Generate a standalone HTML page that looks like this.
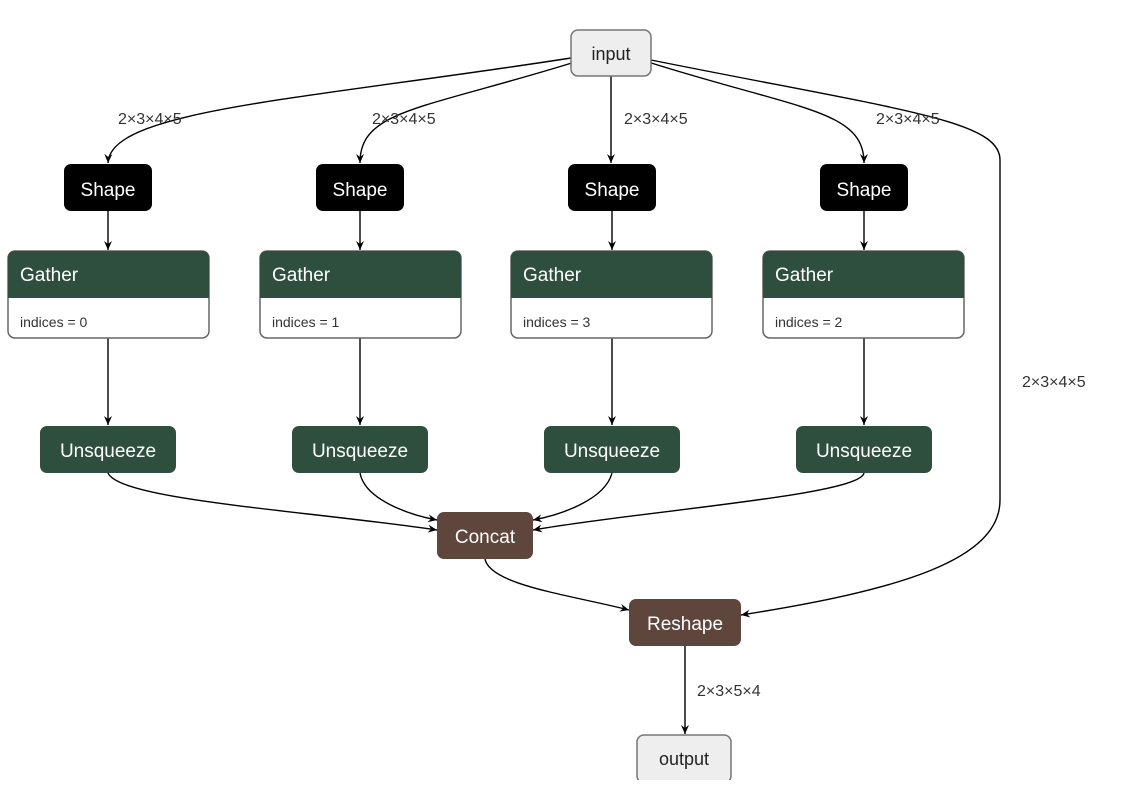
<!DOCTYPE html>
<html><head><style>
body{margin:0;width:1135px;height:780px;background:#fff;overflow:hidden;font-family:"Liberation Sans",sans-serif}
</style></head><body>
<svg width="1135" height="780" xmlns="http://www.w3.org/2000/svg" font-family="Liberation Sans, sans-serif">
<defs><marker id="a" markerWidth="10" markerHeight="10" refX="9" refY="5" orient="auto" markerUnits="userSpaceOnUse"><path d="M0,1 L9,5 L0,9 L3,5 Z" fill="#000"/></marker></defs>
<g fill="none" stroke="#000" stroke-width="1.4" marker-end="url(#a)">
<path d="M571,58 C300,100 110,110 108,163"/>
<path d="M575,62 C420,110 360,110 360,163"/>
<path d="M611,76 L611,163"/>
<path d="M648,62 C800,110 864,110 864,163"/>
<path d="M651,60 C900,110 1000,120 1000,160 L1000,500 C1000,560 900,590 741,615"/>
<path d="M108,211 L108,250"/><path d="M360,211 L360,250"/><path d="M612,211 L612,250"/><path d="M864,211 L864,250"/>
<path d="M108,338 L108,425"/><path d="M360,338 L360,425"/><path d="M612,338 L612,425"/><path d="M864,338 L864,425"/>
<path d="M108,473 C120,500 300,510 437,530"/>
<path d="M360,473 C365,500 410,515 437,520"/>
<path d="M612,473 C605,500 560,515 533,520"/>
<path d="M864,473 C860,495 650,510 533,530"/>
<path d="M485,559 C490,585 570,595 629,610"/>
<path d="M685,646 L685,734"/>
</g>
<g font-size="16" fill="#333">
<text x="118" y="124">2×3×4×5</text><text x="372" y="124">2×3×4×5</text><text x="624" y="124">2×3×4×5</text><text x="876" y="124">2×3×4×5</text>
<text x="1022" y="387">2×3×4×5</text><text x="697" y="696">2×3×5×4</text>
</g>
<rect x="571" y="30" width="80" height="46" rx="7" fill="#eee" stroke="#777" stroke-width="1.5"/>
<text x="611" y="60" font-size="18" text-anchor="middle" fill="#222">input</text>
<rect x="637" y="735" width="94" height="48" rx="7" fill="#eee" stroke="#777" stroke-width="1.5"/>
<text x="684" y="765" font-size="18" text-anchor="middle" fill="#222">output</text>
<g font-size="19" fill="#fff" text-anchor="middle">
<rect x="64" y="164" width="88" height="47" rx="7" fill="#000"/><text x="108" y="196">Shape</text>
<rect x="316" y="164" width="88" height="47" rx="7" fill="#000"/><text x="360" y="196">Shape</text>
<rect x="568" y="164" width="88" height="47" rx="7" fill="#000"/><text x="612" y="196">Shape</text>
<rect x="820" y="164" width="88" height="47" rx="7" fill="#000"/><text x="864" y="196">Shape</text>
<rect x="40" y="426" width="136" height="47" rx="7" fill="#2f4f3e"/><text x="108" y="457">Unsqueeze</text>
<rect x="292" y="426" width="136" height="47" rx="7" fill="#2f4f3e"/><text x="360" y="457">Unsqueeze</text>
<rect x="544" y="426" width="136" height="47" rx="7" fill="#2f4f3e"/><text x="612" y="457">Unsqueeze</text>
<rect x="796" y="426" width="136" height="47" rx="7" fill="#2f4f3e"/><text x="864" y="457">Unsqueeze</text>
<rect x="437" y="512" width="96" height="47" rx="7" fill="#5e463c"/><text x="485" y="543">Concat</text>
<rect x="629" y="599" width="112" height="47" rx="7" fill="#5e463c"/><text x="685" y="630">Reshape</text>
</g>
<g>
<g transform="translate(8,251)"><rect x="0" y="0" width="201" height="87" rx="7" fill="#fff" stroke="#666" stroke-width="1.5"/><path d="M0,47 L0,7 Q0,0 7,0 L194,0 Q201,0 201,7 L201,47 Z" fill="#2f4f3e"/><text x="12" y="30" font-size="19" fill="#fff">Gather</text><text x="12" y="76" font-size="14" fill="#333">indices = 0</text></g>
<g transform="translate(260,251)"><rect x="0" y="0" width="201" height="87" rx="7" fill="#fff" stroke="#666" stroke-width="1.5"/><path d="M0,47 L0,7 Q0,0 7,0 L194,0 Q201,0 201,7 L201,47 Z" fill="#2f4f3e"/><text x="12" y="30" font-size="19" fill="#fff">Gather</text><text x="12" y="76" font-size="14" fill="#333">indices = 1</text></g>
<g transform="translate(511,251)"><rect x="0" y="0" width="201" height="87" rx="7" fill="#fff" stroke="#666" stroke-width="1.5"/><path d="M0,47 L0,7 Q0,0 7,0 L194,0 Q201,0 201,7 L201,47 Z" fill="#2f4f3e"/><text x="12" y="30" font-size="19" fill="#fff">Gather</text><text x="12" y="76" font-size="14" fill="#333">indices = 3</text></g>
<g transform="translate(763,251)"><rect x="0" y="0" width="201" height="87" rx="7" fill="#fff" stroke="#666" stroke-width="1.5"/><path d="M0,47 L0,7 Q0,0 7,0 L194,0 Q201,0 201,7 L201,47 Z" fill="#2f4f3e"/><text x="12" y="30" font-size="19" fill="#fff">Gather</text><text x="12" y="76" font-size="14" fill="#333">indices = 2</text></g>
</g>
</svg>
</body></html>
